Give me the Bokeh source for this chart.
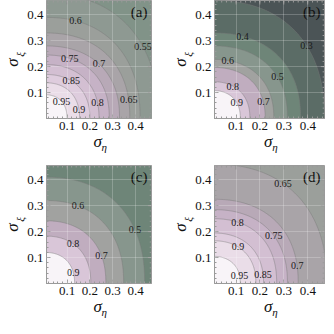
import numpy as np
from bokeh.plotting import figure
from bokeh.models import Range1d, FixedTicker, Label, LinearAxis, ColumnDataSource
from bokeh.layouts import gridplot
from bokeh.embed import file_html
from bokeh.resources import INLINE

# ---------------- data ----------------
tick_vals = [0.1, 0.2, 0.3, 0.4]
minor_vals = [round(0.02 * k, 2) for k in range(1, 24)]

levels_a = [0.95, 0.9, 0.85, 0.8, 0.75, 0.7, 0.65, 0.6, 0.55]
rx_a = [0.10, 0.155, 0.20, 0.24, 0.285, 0.33, 0.375, 0.42, 0.50]
ry_a = [0.092, 0.138, 0.17, 0.208, 0.245, 0.28, 0.33, 0.39, 0.48]

levels_b = [0.9, 0.8, 0.7, 0.6, 0.5, 0.4, 0.3]
rx_b = [0.118, 0.158, 0.222, 0.258, 0.315, 0.37, 0.47]
ry_b = [0.108, 0.142, 0.197, 0.228, 0.28, 0.33, 0.455]

levels_c = [0.9, 0.8, 0.7, 0.6, 0.5]
rx_c = [0.133, 0.204, 0.27, 0.348, 0.44]
ry_c = [0.12, 0.183, 0.242, 0.32, 0.41]

levels_d = [0.95, 0.9, 0.85, 0.8, 0.75, 0.7, 0.65]
rx_d = [0.118, 0.183, 0.215, 0.27, 0.315, 0.36, 0.48]
ry_d = [0.105, 0.165, 0.195, 0.25, 0.285, 0.325, 0.46]

# label placement angles (degrees) along each contour (layout)
ang_a = [43, 12, 57, 14, 70, 46, 10, 74, 32]
ang_b = [31, 60, 16, 78, 32, 73, 35]
ang_c = [18, 55, 23, 68, 27]
ang_d = [15, 57, 8, 70, 37.5, 9.5, 55]

# ---------------- style ----------------
cm_v = [0.25, 0.30, 0.35, 0.40, 0.45, 0.50, 0.55, 0.60, 0.65, 0.70, 0.75, 0.80, 0.85, 0.90, 0.95, 1.00]
cm_c = ["#4b5456", "#53605e", "#5b6c66", "#647a6f", "#6e8578", "#7a8f83", "#87968d",
        "#959c96", "#a1a2a0", "#b0a5af", "#c0adbf", "#cdb8cc", "#d9c6d8", "#e3d3e2",
        "#f0e6ef", "#f8f4f8"]


def hex2rgb(h):
    return np.array([int(h[i:i + 2], 16) for i in (1, 3, 5)], dtype=float)


CM_RGB = np.array([hex2rgb(c) for c in cm_c])


def cmap(v):
    v = min(max(v, cm_v[0]), cm_v[-1])
    rgb = [np.interp(v, cm_v, CM_RGB[:, k]) for k in range(3)]
    return "#%02x%02x%02x" % tuple(int(round(c)) for c in rgb)


SERIF = "Liberation Serif"
XR = (0.01, 0.47)
YR = (0.0, 0.455)
FW, FH = 118, 118
DX = (XR[1] - XR[0]) / FW   # data per pixel
DY = (YR[1] - YR[0]) / FH
SQ = 2.3                    # contour squareness (shape style)
TXT = "#111111"
FRAME = "#9a9a9a"


def contour_xy(rx, ry, t):
    c, s = np.cos(t), np.sin(t)
    return rx * np.abs(c) ** (2 / SQ), ry * np.abs(s) ** (2 / SQ)


def label_axis(tick, text, size, standoff, orient=None):
    ax = LinearAxis(ticker=FixedTicker(ticks=[tick], minor_ticks=[]),
                    major_label_overrides={tick: text},
                    major_label_text_font=SERIF, major_label_text_font_style="italic",
                    major_label_text_font_size=size, major_label_standoff=standoff,
                    major_label_text_color=TXT, axis_line_color=None,
                    major_tick_line_color=None, minor_tick_line_color=None,
                    major_tick_in=0, major_tick_out=0, minor_tick_in=0, minor_tick_out=0)
    if orient is not None:
        ax.major_label_orientation = orient
    return ax


def panel(levels, rx, ry, angs, tag, sub, w, h, bl, br, bt, bb):
    p = figure(width=w, height=h, output_backend="svg",
               toolbar_location=None, x_range=Range1d(*XR), y_range=Range1d(*YR),
               min_border_left=bl, min_border_right=br, min_border_top=bt,
               min_border_bottom=bb, border_fill_color="white",
               outline_line_color=FRAME)
    order = np.argsort(levels)  # lowest level = biggest contour first
    lv = [levels[i] for i in order]
    step = abs(levels[0] - levels[1])
    p.background_fill_color = cmap(min(levels) - step / 2)
    t = np.linspace(0, np.pi / 2, 80)
    xs, ys, fills = [], [], []
    for k, i in enumerate(order):
        cx, cy = contour_xy(rx[i], ry[i], t)
        xs.append(np.concatenate([[0.0], cx, [0.0]]))
        ys.append(np.concatenate([[0.0], cy, [0.0]]))
        upper = lv[k + 1] if k + 1 < len(lv) else None
        fills.append(cmap((lv[k] + upper) / 2) if upper is not None else cmap(1.0))
    src = ColumnDataSource(dict(xs=xs, ys=ys, fc=fills))
    p.patches(xs="xs", ys="ys", source=src, fill_color="fc",
              line_color="#7a7a7a", line_alpha=0.55, line_width=0.8)

    # grid overlay
    p.xgrid.ticker = FixedTicker(ticks=tick_vals)
    p.ygrid.ticker = FixedTicker(ticks=tick_vals)
    p.grid.grid_line_color = "white"
    p.grid.grid_line_alpha = 0.22
    p.grid.level = "overlay"

    # contour labels
    for L, r_x, r_y, a in zip(levels, rx, ry, angs):
        lx, ly = contour_xy(r_x, r_y, np.deg2rad(a))
        p.add_layout(Label(x=float(lx), y=float(ly), text=("%g" % L),
                           text_font=SERIF, text_font_size="10px", text_color="#1a1a1a",
                           text_align="center", text_baseline="middle"))

    for ax in (p.xaxis[0], p.yaxis[0]):
        ax.ticker = FixedTicker(ticks=tick_vals, minor_ticks=minor_vals)
        ax.major_label_text_font = SERIF
        ax.major_label_text_font_size = "13px"
        ax.major_label_text_color = TXT
        ax.major_label_standoff = 3
        ax.major_tick_in = 4
        ax.major_tick_out = 0
        ax.minor_tick_in = 2
        ax.minor_tick_out = 0
        ax.axis_line_color = FRAME
        ax.major_tick_line_color = "#8a8a8a"
        ax.minor_tick_line_color = FRAME
    p.yaxis[0].major_label_orientation = "horizontal"

    # ticks on the top and right frame edges
    maj = np.array(tick_vals)
    mnr = np.array(minor_vals)
    p.segment(x0=maj, x1=maj, y0=YR[1], y1=YR[1] - 4 * DY, line_color="#8a8a8a", line_width=1)
    p.segment(x0=mnr, x1=mnr, y0=YR[1], y1=YR[1] - 2 * DY, line_color=FRAME, line_width=1)
    p.segment(y0=maj, y1=maj, x0=XR[1], x1=XR[1] - 4 * DX, line_color="#8a8a8a", line_width=1)
    p.segment(y0=mnr, y1=mnr, x0=XR[1], x1=XR[1] - 2 * DX, line_color=FRAME, line_width=1)

    # panel tag
    p.add_layout(Label(x=XR[1], y=YR[1], x_offset=-4, y_offset=-3, text=tag,
                       text_font=SERIF, text_font_size="15px", text_color=TXT,
                       text_align="right", text_baseline="top"))

    # axis titles: sigma with subscripts, stacked outside the frame
    xc = (XR[0] + XR[1]) / 2
    yc = (YR[0] + YR[1]) / 2
    p.add_layout(label_axis(round(xc - 1.5 * DX, 5), "σ", "17px", -1), "below")
    p.add_layout(label_axis(round(xc + 6.0 * DX, 5), sub[0], "11px", -13), "below")
    p.add_layout(label_axis(round(yc + 5 * DY, 5), sub[1], "11px", -2, "parallel"), "left")
    p.add_layout(label_axis(round(yc - 3 * DY, 5), "σ", "17px", -11, "parallel"), "left")
    return p


SUB = ("η", "ξ")
pa = panel(levels_a, rx_a, ry_a, ang_a, "(a)", SUB, 168, 163, 33, 17, 0, 45)
pb = panel(levels_b, rx_b, ry_b, ang_b, "(b)", SUB, 158, 163, 38, 2, 0, 45)
pc = panel(levels_c, rx_c, ry_c, ang_c, "(c)", SUB, 168, 163, 33, 17, 2, 43)
pd = panel(levels_d, rx_d, ry_d, ang_d, "(d)", SUB, 158, 163, 38, 2, 2, 43)

grid = gridplot([[pa, pb], [pc, pd]], toolbar_location=None)
open("out.html", "w").write(file_html(grid, INLINE))
